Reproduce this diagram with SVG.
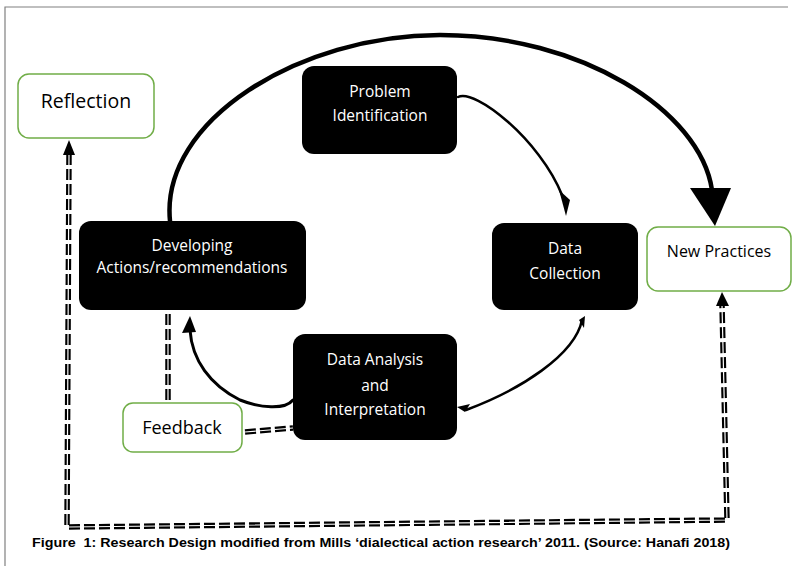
<svg xmlns="http://www.w3.org/2000/svg" width="796" height="566" viewBox="0 0 796 566">
<style>
.blk{fill:#000;stroke:none}
.grn{fill:#fff;stroke:#70ad47;stroke-width:1.5}
.wt{fill:#fff;font-family:"Open Sans","Noto Sans",sans-serif;font-size:15.5px;text-anchor:middle}
.bt{fill:#000;font-family:"Open Sans","Noto Sans",sans-serif;text-anchor:middle}
.arc{fill:none;stroke:#000;stroke-linecap:round}
.dshb{fill:none;stroke:#000;stroke-width:5.5;stroke-dasharray:11 4}
.dshw{fill:none;stroke:#fff;stroke-width:1.2}
</style>
<rect width="796" height="566" fill="#fff"/>
<path d="M5,566 V7 H788" fill="none" stroke="#808080" stroke-width="1.2"/>

<g id="connectors">
  <path class="arc" d="M170,221 C160,120 300,35 440,35 C580,35 700,110 712,190" stroke-width="4.5"/>
  <polygon points="690,188 731,188 715,226" fill="#000"/>
  <path class="arc" d="M458,97 C475,88 540,140 562,195" stroke-width="2.5"/>
  <polygon points="559,190 570,200 566,216" fill="#000"/>
  <path class="arc" d="M582,320 C575,355 520,390 466,410" stroke-width="2.5"/>
  <polygon points="579,320 585,316 584,328" fill="#000"/>
  <polygon points="457,407 470,404 465,412" fill="#000"/>
  <path class="arc" d="M293,400 C285,410 260,408 240,400 C210,385 192,360 190,330" stroke-width="3"/>
  <polygon points="190,316 182,333 196,332" fill="#000"/>
  <path class="dshb" d="M168,314 V403"/>
  <path class="dshw" d="M168,314 V403"/>
  <path class="dshb" d="M245,432 L293,428"/>
  <path class="dshw" d="M245,432 L293,428"/>
  <path class="dshb" d="M69,154 L67,527 L727,520 L722,305"/>
  <path class="dshw" d="M69,154 L67,527 L727,520 L722,305"/>
  <polygon points="63,155 75,155 69,140" fill="#000"/>
  <polygon points="716,306 729,306 722,292" fill="#000"/>
</g>

<g id="reflection">
  <rect class="grn" x="18" y="74" width="136" height="64" rx="11"/>
  <text class="bt" x="86" y="108" font-size="19.5">Reflection</text>
</g>
<g id="problem">
  <rect class="blk" x="302" y="66" width="155" height="88" rx="12"/>
  <text class="wt" x="380" y="97">Problem</text>
  <text class="wt" x="380" y="121">Identification</text>
</g>
<g id="developing">
  <rect class="blk" x="79" y="221" width="227" height="89" rx="12"/>
  <text class="wt" x="192" y="251" font-size="14">Developing</text>
  <text class="wt" x="192" y="273" font-size="14">Actions/recommendations</text>
</g>
<g id="datacollection">
  <rect class="blk" x="492" y="223" width="146" height="87" rx="12"/>
  <text class="wt" x="565" y="254">Data</text>
  <text class="wt" x="565" y="279">Collection</text>
</g>
<g id="newpractices">
  <rect class="grn" x="647" y="227" width="144" height="64" rx="11"/>
  <text class="bt" x="719" y="257" font-size="16">New Practices</text>
</g>
<g id="dataanalysis">
  <rect class="blk" x="293" y="334" width="164" height="106" rx="12"/>
  <text class="wt" x="375" y="365">Data Analysis</text>
  <text class="wt" x="375" y="391">and</text>
  <text class="wt" x="375" y="415">Interpretation</text>
</g>
<g id="feedback">
  <rect class="grn" x="123" y="403" width="119" height="49" rx="10"/>
  <text class="bt" x="182" y="434" font-size="18">Feedback</text>
</g>
<text x="32" y="547" font-family="'Liberation Sans',Arial,sans-serif" font-weight="bold" font-size="12.5" textLength="698" lengthAdjust="spacingAndGlyphs" fill="#000" xml:space="preserve">Figure  1: Research Design modified from Mills ‘dialectical action research’ 2011. (Source: Hanafi 2018)</text>
</svg>
